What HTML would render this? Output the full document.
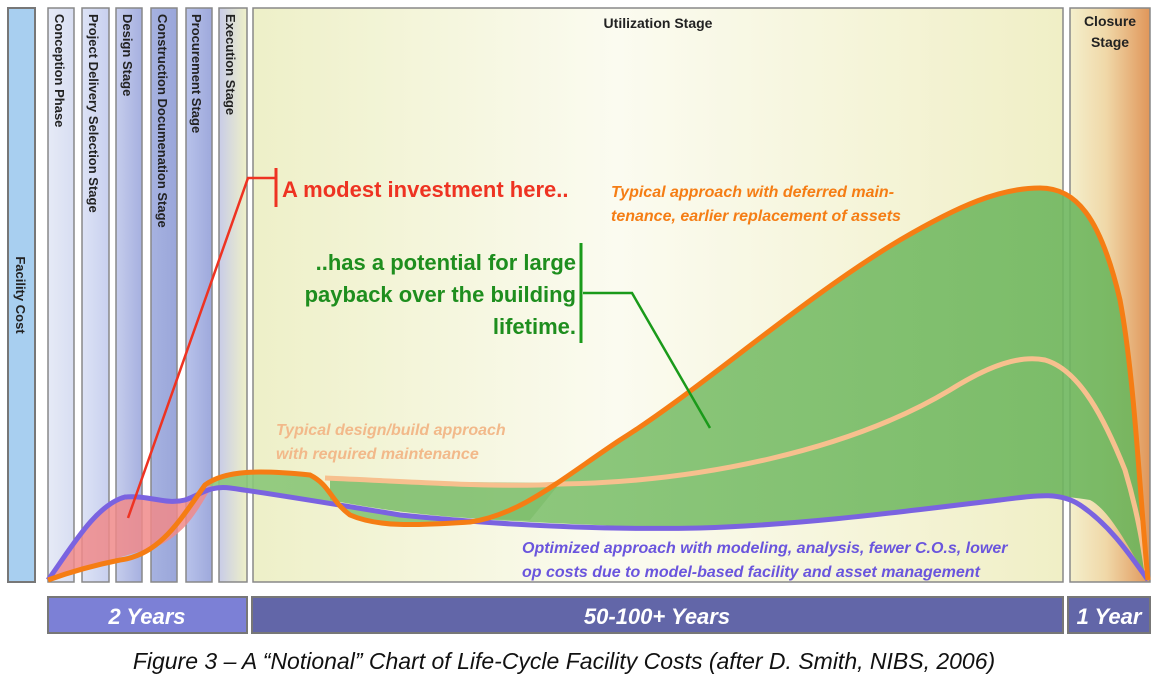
<!DOCTYPE html>
<html><head><meta charset="utf-8"><style>
html,body{margin:0;padding:0;background:#fff;width:1161px;height:682px;overflow:hidden}
svg{display:block}
text{font-family:"Liberation Sans",sans-serif}
</style></head><body>
<svg width="1161" height="682" viewBox="0 0 1161 682" xmlns="http://www.w3.org/2000/svg">
<defs>
<linearGradient id="util" x1="0" x2="1" y1="0" y2="0"><stop offset="0" stop-color="#eef0c8"/><stop offset="0.45" stop-color="#fbfbf0"/><stop offset="1" stop-color="#f0efc6"/></linearGradient>
<linearGradient id="clos" x1="0" x2="1"><stop offset="0" stop-color="#f4efcc"/><stop offset="0.45" stop-color="#f0d8a8"/><stop offset="1" stop-color="#e0965a"/></linearGradient>
<linearGradient id="exec" x1="0" x2="1"><stop offset="0" stop-color="#c8cce8"/><stop offset="1" stop-color="#eff0c8"/></linearGradient>
<linearGradient id="c1" x1="0" x2="1"><stop offset="0" stop-color="#e6eaf6"/><stop offset="1" stop-color="#d8def2"/></linearGradient>
<linearGradient id="c2" x1="0" x2="1"><stop offset="0" stop-color="#dde3f6"/><stop offset="1" stop-color="#c8d0ee"/></linearGradient>
<linearGradient id="c3" x1="0" x2="1"><stop offset="0" stop-color="#c6cdec"/><stop offset="1" stop-color="#a6b0e0"/></linearGradient>
<linearGradient id="c4" x1="0" x2="1"><stop offset="0" stop-color="#a6b2e0"/><stop offset="1" stop-color="#9aa6da"/></linearGradient>
<linearGradient id="c5" x1="0" x2="1"><stop offset="0" stop-color="#b8c2ea"/><stop offset="1" stop-color="#9ea9dc"/></linearGradient>
<linearGradient id="grn" x1="0" x2="1"><stop offset="0" stop-color="#8cc87a"/><stop offset="1" stop-color="#6cb55c"/></linearGradient>
</defs>
<rect x="8" y="8" width="27" height="574" fill="#a8cff0" stroke="#777" stroke-width="2"/>
<text transform="translate(16,295) rotate(90)" font-size="13" font-weight="bold" text-anchor="middle" fill="#222">Facility Cost</text>
<rect x="48" y="8" width="26" height="574" fill="url(#c1)" stroke="#888" stroke-width="1.5"/>
<rect x="82" y="8" width="27" height="574" fill="url(#c2)" stroke="#888" stroke-width="1.5"/>
<rect x="116" y="8" width="26" height="574" fill="url(#c3)" stroke="#888" stroke-width="1.5"/>
<rect x="151" y="8" width="26" height="574" fill="url(#c4)" stroke="#888" stroke-width="1.5"/>
<rect x="186" y="8" width="26" height="574" fill="url(#c5)" stroke="#888" stroke-width="1.5"/>
<rect x="219" y="8" width="28" height="574" fill="url(#exec)" stroke="#888" stroke-width="1.5"/>
<rect x="253" y="8" width="810" height="574" fill="url(#util)" stroke="#888" stroke-width="1.5"/>
<rect x="1070" y="8" width="80" height="574" fill="url(#clos)" stroke="#888" stroke-width="1.5"/>
<g font-size="13" fill="#222" font-weight="bold">
<text transform="translate(55,14) rotate(90)">Conception Phase</text>
<text transform="translate(89,14) rotate(90)">Project Delivery Selection Stage</text>
<text transform="translate(123,14) rotate(90)">Design Stage</text>
<text transform="translate(158,14) rotate(90)">Construction Documenation Stage</text>
<text transform="translate(192,14) rotate(90)">Procurement Stage</text>
<text transform="translate(226,14) rotate(90)">Execution Stage</text>
<text x="658" y="28" text-anchor="middle" font-size="14">Utilization Stage</text>
<text x="1110" y="26" text-anchor="middle" font-size="14">Closure</text>
<text x="1110" y="47" text-anchor="middle" font-size="14">Stage</text>
</g>
<path d="M48,580 C70,550 95,505 125,497 C150,495 165,505 185,500 C200,495 205,488 215,482 C200,505 190,530 160,545 C130,555 110,560 90,565 C70,570 55,578 48,580 Z" fill="#f08a8a" opacity="0.85"/>
<path d="M205,485 C225,470 260,470 310,475 C330,485 330,500 350,515 C380,528 420,525 470,522 C520,515 560,480 620,440 C700,390 800,300 900,240 C960,205 1000,188 1040,188 C1075,188 1100,215 1120,300 C1135,380 1140,500 1148,580 C1130,550 1110,510 1090,500 C1060,495 1040,495 1000,500 C900,515 800,525 700,528 C600,527 500,520 400,515 C320,505 260,490 225,488 Z" fill="url(#grn)" opacity="0.9"/>
<path d="M330,480 L330,500 C380,510 450,520 530,520 L560,483 C480,482 400,482 330,480 Z" fill="#7fbf6e" opacity="0.9"/>
<path d="M325,478 C420,482 500,488 560,484 C700,482 850,450 950,390 C990,365 1020,355 1045,360 C1080,370 1105,420 1125,470 C1140,520 1145,560 1148,580" fill="none" stroke="#f7c08e" stroke-width="5"/>
<path d="M48,580 C70,550 95,505 125,497 C150,495 165,505 185,500 C200,495 210,485 230,488 C280,495 340,505 400,515 C500,525 600,530 700,528 C800,525 900,512 1000,500 C1040,495 1060,492 1080,505 C1110,525 1130,555 1148,580" fill="none" stroke="#7a63e0" stroke-width="5"/>
<path d="M48,580 C70,572 95,565 120,560 C160,555 180,520 205,485 C225,470 260,470 310,475 C330,485 330,500 350,515 C380,528 420,525 470,522 C520,515 560,480 620,440 C700,390 800,300 900,240 C960,205 1000,188 1040,188 C1075,188 1100,215 1120,300 C1135,380 1140,500 1148,580" fill="none" stroke="#f57d14" stroke-width="5"/>
<polyline points="128,518 248,178 275,178" fill="none" stroke="#ee3322" stroke-width="2.5"/>
<line x1="276" y1="168" x2="276" y2="207" stroke="#ee3322" stroke-width="3"/>
<text x="282" y="197" font-size="22" font-weight="bold" fill="#ee3322">A modest investment here..</text>
<line x1="581" y1="243" x2="581" y2="343" stroke="#1a9a1a" stroke-width="3"/>
<polyline points="583,293 632,293 710,428" fill="none" stroke="#1a9a1a" stroke-width="2.5"/>
<g font-size="22" font-weight="bold" fill="#1e8e1e" text-anchor="end">
<text x="576" y="270">..has a potential for large</text>
<text x="576" y="302">payback over the building</text>
<text x="576" y="334">lifetime.</text>
</g>
<g font-size="16" font-weight="bold" font-style="italic">
<text x="611" y="197" fill="#f57d14">Typical approach with deferred main-</text>
<text x="611" y="221" fill="#f57d14">tenance, earlier replacement of assets</text>
<text x="276" y="435" fill="#f2b98a">Typical design/build approach</text>
<text x="276" y="459" fill="#f2b98a">with required maintenance</text>
<text x="522" y="553" fill="#6a55dd">Optimized approach with modeling, analysis, fewer C.O.s, lower</text>
<text x="522" y="577" fill="#6a55dd">op costs due to model-based facility and asset management</text>
</g>
<rect x="48" y="597" width="199" height="36" fill="#7c80d6" stroke="#777" stroke-width="2"/>
<rect x="252" y="597" width="811" height="36" fill="#6266a8" stroke="#777" stroke-width="2"/>
<rect x="1068" y="597" width="82" height="36" fill="#6266a8" stroke="#777" stroke-width="2"/>
<g font-size="22" font-weight="bold" font-style="italic" fill="#fff" text-anchor="middle">
<text x="147" y="624">2 Years</text>
<text x="657" y="624">50-100+ Years</text>
<text x="1109" y="624">1 Year</text>
</g>
<text x="564" y="669" font-size="23" font-style="italic" text-anchor="middle" fill="#111">Figure 3 – A “Notional” Chart of Life-Cycle Facility Costs (after D. Smith, NIBS, 2006)</text>
</svg>
</body></html>
